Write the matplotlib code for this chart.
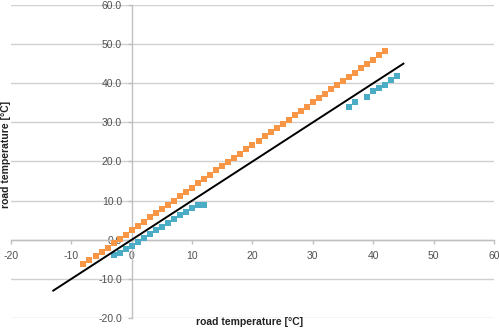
import numpy as np
import matplotlib.pyplot as plt

plt.rcParams['font.family'] = ['Liberation Sans', 'DejaVu Sans']

# orange series
orange_x = list(range(-8, 43))
orange_y = [-6.3, -5.2, -4.1, -3.1, -2.0, -0.9, 0.2, 1.3, 2.4, 3.5, 4.6, 5.7,
            6.8, 7.9, 8.9, 10.0, 11.1, 12.2, 13.3, 14.4, 15.5, 16.6, 17.7,
            18.8, 19.8, 20.9, 22.0, 23.1, 24.2, 25.3, 26.4, 27.5, 28.6, 29.7,
            30.7, 31.8, 32.9, 34.0, 35.1, 36.2, 37.3, 38.4, 39.5, 40.6, 41.6,
            42.7, 43.8, 44.9, 46.0, 47.1, 48.2]

# blue series
blue_x = [-3, -2, -1, 0, 1, 2, 3, 4, 5, 6, 7, 8, 9, 10, 11, 12,
          36, 37, 39, 40, 41, 42, 43, 44]
blue_y = [-3.9, -3.3, -2.4, -1.6, -0.5, 0.5, 1.4, 2.4, 3.3, 4.3, 5.4, 6.3,
          7.1, 8.0, 9.0, 9.0,
          33.9, 35.2, 36.6, 38.0, 38.9, 39.5, 40.8, 41.9]

# reference line y = x
line_x = [-13, 45]
line_y = [-13, 45]

x_ticks = [-20, -10, 0, 10, 20, 30, 40, 50, 60]
y_ticks = [-20, -10, 0, 10, 20, 30, 40, 50, 60]
label = 'road temperature [°C]'

fig = plt.figure(figsize=(4.99, 3.29), dpi=100)
ax = fig.add_axes([0.022, 0.0334, 0.968, 0.9516])

ax.set_xlim(-20, 60)
ax.set_ylim(-20, 60)

for yv in y_ticks:
    ax.axhline(yv, color='#d0d0d0', lw=1.0, zorder=0)

ax.scatter(orange_x, orange_y, marker='s', s=14, color='#f79646',
           linewidths=0, zorder=3)
ax.scatter(blue_x, blue_y, marker='s', s=14, color='#4bacc6',
           linewidths=0, zorder=3)
ax.plot(line_x, line_y, color='black', lw=1.4, zorder=4)

ax.spines['top'].set_visible(False)
ax.spines['right'].set_visible(False)
ax.spines['left'].set_position(('data', 0))
ax.spines['bottom'].set_position(('data', 0))
for s in ('left', 'bottom'):
    ax.spines[s].set_color('#c0c0c0')
    ax.spines[s].set_linewidth(1.0)

ax.set_xticks(x_ticks)
ax.set_yticks(y_ticks)
ax.set_xticklabels([str(v) for v in x_ticks])
ax.set_yticklabels(['%.1f' % v for v in y_ticks])
ax.tick_params(axis='both', colors='#c0c0c0', labelcolor='#505050',
               labelsize=7.5, length=3, width=1.0, direction='out')
ax.tick_params(axis='x', pad=5)
ax.tick_params(axis='y', pad=4)
ax.patch.set_alpha(0)

fig.text(0.5, 0.005, label, ha='center', va='bottom',
         fontsize=7.5, fontweight='bold', color='#222222')
fig.text(0.012, 0.53, label, ha='center', va='center', rotation=90,
         fontsize=7.5, fontweight='bold', color='#222222')

fig.savefig('out.png', dpi=100)
